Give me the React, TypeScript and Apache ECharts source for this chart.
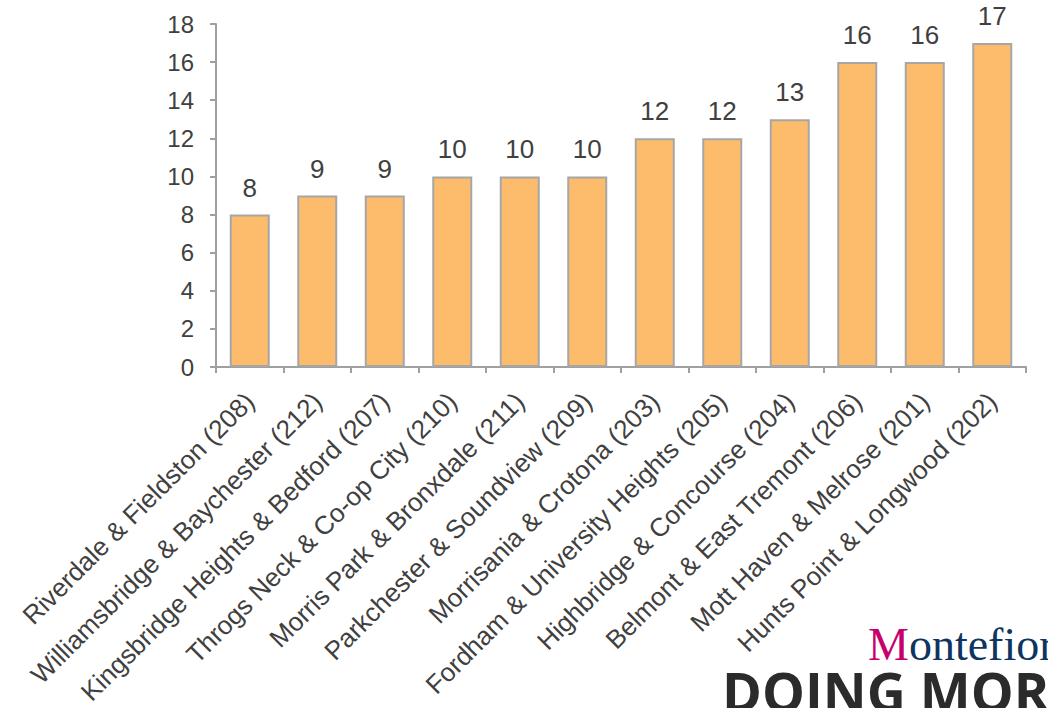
import React, { useEffect, useRef } from "react";
import * as echarts from "echarts";

const categories = [
  "Riverdale & Fieldston (208)",
  "Williamsbridge & Baychester (212)",
  "Kingsbridge Heights & Bedford (207)",
  "Throgs Neck & Co-op City (210)",
  "Morris Park & Bronxdale (211)",
  "Parkchester & Soundview (209)",
  "Morrisania & Crotona (203)",
  "Fordham & University Heights (205)",
  "Highbridge & Concourse (204)",
  "Belmont & East Tremont (206)",
  "Mott Haven & Melrose (201)",
  "Hunts Point & Longwood (202)",
];
const values = [8, 9, 9, 10, 10, 10, 12, 12, 13, 16, 16, 17];
const yTicks = [0, 2, 4, 6, 8, 10, 12, 14, 16, 18];

export default function App() {
  const ref = useRef<HTMLDivElement>(null);
  useEffect(() => {
    document.body.style.margin = "0";
    const chart = echarts.init(ref.current!, null, { renderer: "svg" });
    chart.setOption({
      animation: false,
      backgroundColor: "#ffffff",
      grid: { left: 216, top: 24, right: 22, bottom: 341, containLabel: false },
      xAxis: {
        type: "category",
        data: categories,
        axisLine: { lineStyle: { color: "#a0a0a0", width: 2 } },
        axisTick: { show: true, length: 6, lineStyle: { color: "#a0a0a0", width: 2 } },
        axisLabel: {
          rotate: 45,
          interval: 0,
          margin: 30,
          fontSize: 26,
          color: "#404040",
          fontFamily: "Liberation Sans, Arial, sans-serif",
        },
      },
      yAxis: {
        type: "value",
        min: yTicks[0],
        max: yTicks[yTicks.length - 1],
        interval: 2,
        splitLine: { show: false },
        axisLine: { show: true, lineStyle: { color: "#a0a0a0", width: 2 } },
        axisTick: { show: true, length: 6, lineStyle: { color: "#a0a0a0", width: 2 } },
        axisLabel: {
          margin: 22,
          fontSize: 24,
          color: "#404040",
          fontFamily: "Liberation Sans, Arial, sans-serif",
        },
      },
      series: [
        {
          type: "bar",
          data: values,
          barWidth: 40,
          itemStyle: { color: "#fdbb6c", borderColor: "#a6a6a6", borderWidth: 2 },
          label: {
            show: true,
            position: "top",
            distance: 14,
            fontSize: 26,
            color: "#404040",
            fontFamily: "Liberation Sans, Arial, sans-serif",
          },
        },
      ],
      graphic: [
        {
          type: "text",
          left: 868,
          top: 621,
          style: {
            rich: {
              m: { fill: "#c8006e", fontSize: 46, lineHeight: 40, fontFamily: "Liberation Serif, serif" },
              r: { fill: "#0e3460", fontSize: 46, lineHeight: 40, fontFamily: "Liberation Serif, serif" },
            },
            text: "{m|M}{r|ontefiore}",
          },
        },
        {
          type: "text",
          left: 722,
          top: 664,
          style: {
            text: "DOING MORE",
            fill: "#2b2b2b",
            fontSize: 54,
            lineHeight: 50,
            fontWeight: "bold",
            fontFamily: "Open Sans, sans-serif",
          },
        },
      ],
    });
    return () => chart.dispose();
  }, []);
  return <div ref={ref} style={{ width: 1048, height: 708 }} />;
}
